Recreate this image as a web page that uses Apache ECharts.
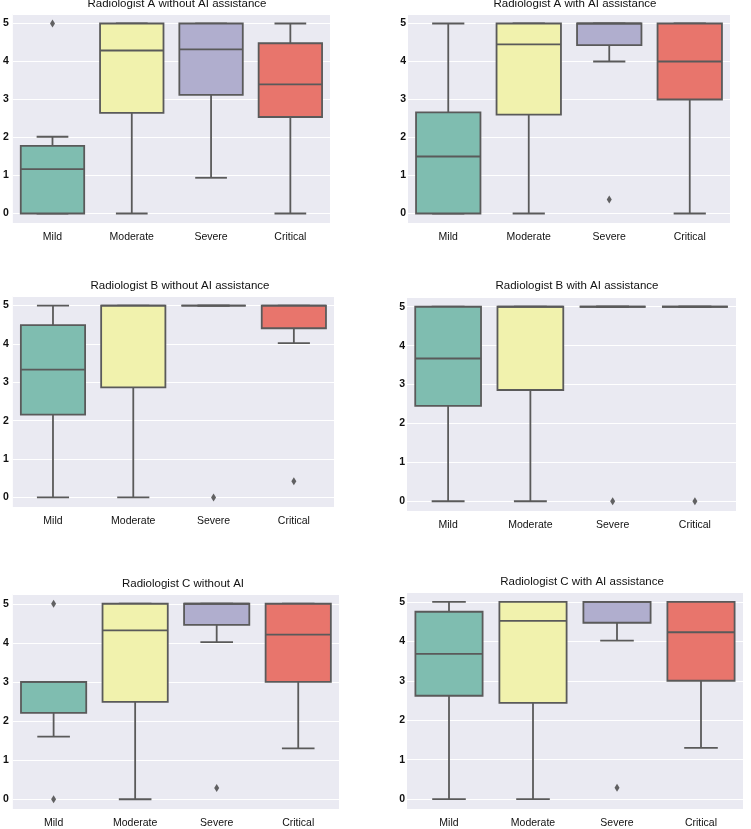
<!DOCTYPE html>
<html>
<head>
<meta charset="utf-8">
<title>Radiologist boxplots</title>
<script src="https://cdn.jsdelivr.net/npm/echarts@6/dist/echarts.min.js"></script>
<style>
  html, body { margin: 0; padding: 0; background: #fff; }
  #chart { width: 751px; height: 829px; }
</style>
</head>
<body>
<div id="chart"></div>
<script>
const categories = ['Mild', 'Moderate', 'Severe', 'Critical'];

const titles = [
    'Radiologist A without AI assistance',
    'Radiologist A with AI assistance',
    'Radiologist B without AI assistance',
    'Radiologist B with AI assistance',
    'Radiologist C without AI',
    'Radiologist C with AI assistance'
];

// per category: [low whisker, Q1, median, Q3, high whisker]
const boxesAWithout = [[0, 0, 1.17, 1.78, 2.02], [0, 2.65, 4.29, 5, 5], [0.94, 3.12, 4.32, 5, 5], [0, 2.54, 3.40, 4.48, 5]];
const boxesAWith    = [[0, 0, 1.50, 2.66, 5], [0, 2.60, 4.45, 5, 5], [4.0, 4.43, 5, 5, 5], [0, 3.0, 4.0, 5, 5]];
const boxesBWithout = [[0, 2.16, 3.33, 4.49, 5], [0, 2.87, 5, 5, 5], [5, 5, 5, 5, 5], [4.02, 4.41, 5, 5, 5]];
const boxesBWith    = [[0, 2.45, 3.67, 5, 5], [0, 2.86, 5, 5, 5], [5, 5, 5, 5, 5], [5, 5, 5, 5, 5]];
const boxesCWithout = [[1.60, 2.21, 3.0, 3.0, 3.0], [0, 2.49, 4.32, 5, 5], [4.02, 4.46, 5, 5, 5], [1.30, 3.0, 4.21, 5, 5]];
const boxesCWith    = [[0, 2.62, 3.68, 4.75, 5], [0, 2.44, 4.52, 5, 5], [4.02, 4.47, 5, 5, 5], [1.30, 3.0, 4.23, 5, 5]];

// outliers: [category index, value]
const outAWithout = [[0, 5]];
const outAWith    = [[2, 0.37]];
const outBWithout = [[2, 0], [3, 0.42]];
const outBWith    = [[2, 0], [3, 0]];
const outCWithout = [[0, 5], [0, 0], [2, 0.29]];
const outCWith    = [[2, 0.29]];

const boxSets = [boxesAWithout, boxesAWith, boxesBWithout, boxesBWith, boxesCWithout, boxesCWith];
const outSets = [outAWithout, outAWith, outBWithout, outBWith, outCWithout, outCWith];

const fills = ['#7fbdb0', '#f1f2ad', '#b0aece', '#e8756c'];
const edge = '#5a5a5a';

// panel layout in px: grid box, title centre, y label gap
const panels = [
    { left: 8,   top: 14,  width: 322, height: 209, tx: 177, ty: 4,   gap: 4 },
    { left: 408, top: 14,  width: 322, height: 209, tx: 575, ty: 4,   gap: 2 },
    { left: 8,   top: 296, width: 326, height: 211, tx: 180, ty: 286, gap: 4 },
    { left: 407, top: 297, width: 329, height: 214, tx: 577, ty: 286, gap: 2 },
    { left: 7,   top: 594, width: 332, height: 215, tx: 183, ty: 584, gap: 4 },
    { left: 407, top: 592, width: 336, height: 218, tx: 582, ty: 582, gap: 2 }
];

function renderBox(params, api) {
    const cat = api.value(0);
    const lo = api.coord([cat, api.value(1)]);
    const q1 = api.coord([cat, api.value(2)]);
    const med = api.coord([cat, api.value(3)]);
    const q3 = api.coord([cat, api.value(4)]);
    const hi = api.coord([cat, api.value(5)]);
    const band = api.size([1, 0])[0];
    const bw = band * 0.8;
    const cw = bw * 0.5;
    const x = q1[0];
    const line = { stroke: edge, lineWidth: 1.8 };
    const seg = (x1, y1, x2, y2) => ({ type: 'line', shape: { x1, y1, x2, y2 }, style: line });

    return {
        type: 'group',
        children: [
            seg(x, q1[1], x, lo[1]),
            seg(x, q3[1], x, hi[1]),
            seg(x - cw / 2, lo[1], x + cw / 2, lo[1]),
            seg(x - cw / 2, hi[1], x + cw / 2, hi[1]),
            {
                type: 'rect',
                shape: { x: x - bw / 2, y: q3[1], width: bw, height: q1[1] - q3[1] },
                style: { fill: fills[cat], stroke: edge, lineWidth: 1.8 }
            },
            seg(x - bw / 2, med[1], x + bw / 2, med[1])
        ]
    };
}

const grid = [], xAxis = [], yAxis = [], series = [], title = [];

panels.forEach((p, i) => {
    grid.push({
        left: p.left, top: p.top, width: p.width, height: p.height,
        show: true, backgroundColor: '#eaeaf2', borderWidth: 0
    });
    title.push({
        text: titles[i],
        left: p.tx, top: p.ty - 6,
        textAlign: 'center', textVerticalAlign: 'top', padding: 0,
        textStyle: { fontFamily: 'Liberation Sans', fontSize: 11.5, fontWeight: 'normal', color: '#111111' }
    });
    xAxis.push({
        type: 'category', gridIndex: i, data: categories,
        axisLine: { show: false }, axisTick: { show: false },
        splitLine: { show: false },
        axisLabel: { margin: 9, fontFamily: 'Liberation Sans', fontSize: 10.5, color: '#111111' }
    });
    yAxis.push({
        type: 'value', gridIndex: i, min: -0.25, max: 5.25, splitNumber: 5,
        axisLine: { show: false }, axisTick: { show: false },
        splitLine: { lineStyle: { color: '#ffffff', width: 1 } },
        axisLabel: {
            margin: p.gap, showMinLabel: false, showMaxLabel: false,
            fontFamily: 'Liberation Sans', fontSize: 10.5, fontWeight: 'bold', color: '#111111'
        }
    });
    series.push({
        type: 'custom', xAxisIndex: i, yAxisIndex: i,
        renderItem: renderBox,
        encode: { x: 0, y: [1, 2, 3, 4, 5] },
        data: boxSets[i].map((b, k) => [k].concat(b)),
        silent: true
    });
    series.push({
        type: 'scatter', xAxisIndex: i, yAxisIndex: i,
        symbol: 'diamond', symbolSize: [5, 8],
        itemStyle: { color: '#3d3d3d' },
        data: outSets[i],
        silent: true
    });
});

const chart = echarts.init(document.getElementById('chart'));
chart.setOption({
    backgroundColor: '#ffffff',
    animation: false,
    title,
    grid,
    xAxis,
    yAxis,
    series
});
</script>
</body>
</html>
